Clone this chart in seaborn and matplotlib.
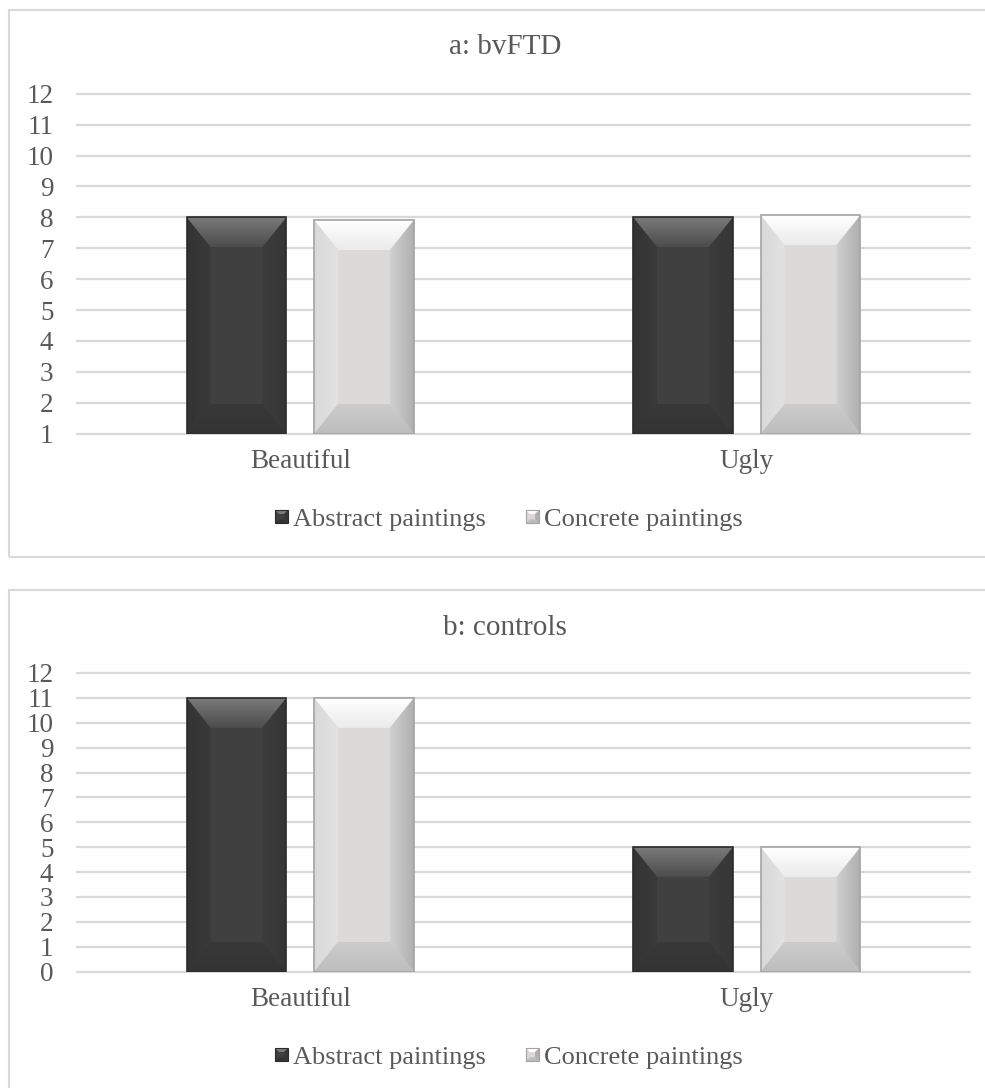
import matplotlib
matplotlib.use("Agg")
import numpy as np
import pandas as pd
import matplotlib.pyplot as plt
import seaborn as sns
from matplotlib.patches import Polygon, Rectangle, Patch
from matplotlib.legend_handler import HandlerBase
from matplotlib.colors import LinearSegmentedColormap

# ---------------- data ----------------
categories = ["Beautiful", "Ugly"]
series = ["Abstract paintings", "Concrete paintings"]
bvftd_abstract = [8.0, 8.0]
bvftd_concrete = [7.91, 8.07]
controls_abstract = [11.0, 5.0]
controls_concrete = [11.0, 5.0]
yticks_a = list(range(1, 13))
yticks_b = list(range(0, 13))
titles = ["a: bvFTD", "b: controls"]

# ---------------- style ----------------
sns.set_theme(style="white")
plt.rcParams['font.family'] = ['Liberation Serif', 'DejaVu Serif']
TEXT = "#595959"
GRID = "#d9d9d9"
W, H = 985, 1088

STYLES = {
    "Abstract paintings": dict(body="#404040", edge="#2a2a2a",
                               top=("#7a7a7a", "#4c4c4c"), bottom=("#333333", "#383838"),
                               left=("#333333", "#3a3a3a"), right=("#363636", "#3c3c3c")),
    "Concrete paintings": dict(body="#dcd8d8", edge="#a3a3a3",
                               top=("#ffffff", "#ebebeb"), bottom=("#bdbdbd", "#cccccc"),
                               left=("#d9d9d9", "#e2e2e2"), right=("#b0b0b0", "#d0d0d0")),
}

fig = plt.figure(figsize=(W / 100, H / 100), dpi=100)
fig.patch.set_facecolor("white")


def px_rect(l, t, r, b):
    return [l / W, 1 - b / H, (r - l) / W, (b - t) / H]


def grad_face(ax, verts, c_out, c_in, direction, z):
    poly = Polygon(verts, closed=True, fc="none", ec="none", transform=ax.transData)
    ax.add_patch(poly)
    xs = [v[0] for v in verts]
    ys = [v[1] for v in verts]
    ext = [min(xs), max(xs), min(ys), max(ys)]
    cmap = LinearSegmentedColormap.from_list("g", [c_out, c_in])
    ramp = np.linspace(0, 1, 64)
    if direction == "top":
        arr = ramp.reshape(-1, 1)
    elif direction == "bottom":
        arr = ramp[::-1].reshape(-1, 1)
    elif direction == "left":
        arr = ramp.reshape(1, -1)
    else:
        arr = ramp[::-1].reshape(1, -1)
    im = ax.imshow(arr, extent=ext, origin="upper", aspect="auto", cmap=cmap,
                   vmin=0, vmax=1, interpolation="bilinear", zorder=z)
    im.set_clip_path(poly)


def bevel(ax, patch, st):
    bb = patch.get_bbox()
    ylo = ax.get_ylim()[0]
    x0, x1 = bb.x0, bb.x1
    y0, y1 = max(bb.y0, ylo), bb.y1
    T = ax.transData
    (X0, Y0), (X1, Y1) = T.transform([(x0, y0), (x1, y1)])
    ix = min(24, (X1 - X0) / 2)
    iy = min(30, (Y1 - Y0) / 2)
    inv = T.inverted()
    faces = {
        "top": [(X0, Y1), (X1, Y1), (X1 - ix, Y1 - iy), (X0 + ix, Y1 - iy)],
        "bottom": [(X0, Y0), (X1, Y0), (X1 - ix, Y0 + iy), (X0 + ix, Y0 + iy)],
        "left": [(X0, Y0), (X0 + ix, Y0 + iy), (X0 + ix, Y1 - iy), (X0, Y1)],
        "right": [(X1, Y0), (X1 - ix, Y0 + iy), (X1 - ix, Y1 - iy), (X1, Y1)],
    }
    for name, v in faces.items():
        vd = inv.transform(v)
        grad_face(ax, [tuple(p) for p in vd], st[name][0], st[name][1], name, 3)
    ax.add_patch(Rectangle((x0, y0), x1 - x0, y1 - y0, fill=False,
                           ec=st["edge"], lw=1.2, zorder=4))


class BevelHandler(HandlerBase):
    def __init__(self, st):
        super().__init__()
        self.st = st

    def create_artists(self, legend, orig_handle, xdescent, ydescent, width, height, fontsize, trans):
        s = min(width, height)
        x0 = -xdescent + (width - s) / 2
        y0 = -ydescent + (height - s) / 2
        x1, y1 = x0 + s, y0 + s
        d = s * 0.3
        st = self.st
        arts = [Rectangle((x0, y0), s, s, fc=st["body"], ec="none", transform=trans)]
        arts.append(Polygon([(x0, y1), (x1, y1), (x1 - d, y1 - d), (x0 + d, y1 - d)],
                            fc=st["top"][0], ec="none", transform=trans))
        arts.append(Polygon([(x0, y0), (x1, y0), (x1 - d, y0 + d), (x0 + d, y0 + d)],
                            fc=st["bottom"][0], ec="none", transform=trans))
        arts.append(Polygon([(x1, y0), (x1 - d, y0 + d), (x1 - d, y1 - d), (x1, y1)],
                            fc=st["right"][0], ec="none", transform=trans))
        arts.append(Rectangle((x0, y0), s, s, fill=False, ec=st["edge"], lw=0.8, transform=trans))
        return arts


panels = [
    dict(abstract=bvftd_abstract, concrete=bvftd_concrete, yticks=yticks_a,
         frame=(9, 10, 1005, 557), axes=(77, 93.7, 970, 433.7), title_y=47, legend_y=520),
    dict(abstract=controls_abstract, concrete=controls_concrete, yticks=yticks_b,
         frame=(9, 590, 1005, 1110), axes=(77, 673, 970, 971.5), title_y=628, legend_y=1058),
]

for i, p in enumerate(panels):
    l, t, r, b = p["frame"]
    fig.add_artist(Rectangle((l / W, 1 - b / H), (r - l) / W, (b - t) / H,
                             transform=fig.transFigure, fill=False, ec=GRID, lw=1.5, zorder=0))
    ax = fig.add_axes(px_rect(*p["axes"]))
    df = pd.DataFrame({
        "category": categories * 2,
        "series": [s for s in series for _ in categories],
        "value": list(p["abstract"]) + list(p["concrete"]),
    })
    sns.barplot(data=df, x="category", y="value", hue="series", hue_order=series,
                order=categories, palette=[STYLES[s]["body"] for s in series],
                width=0.571, gap=0.216, ax=ax, legend=False, errorbar=None,
                linewidth=0, zorder=2)
    ax.set_xlim(-0.5, 1.5)
    ax.set_ylim(p["yticks"][0], p["yticks"][-1])
    ax.set_yticks(p["yticks"])
    ax.set_yticklabels([str(v) for v in p["yticks"]])
    ax.set_xlabel("")
    ax.set_ylabel("")
    for sp in ax.spines.values():
        sp.set_visible(False)
    ax.set_facecolor("white")
    ax.set_axisbelow(True)
    ax.yaxis.grid(True, color=GRID, lw=1.6)
    ax.xaxis.grid(False)
    for gl in ax.get_ygridlines():
        gl.set_clip_on(False)
    ax.tick_params(axis="y", length=0, pad=17, labelsize=19.5, labelcolor=TEXT)
    ax.tick_params(axis="x", length=0, pad=11, labelsize=19.5, labelcolor=TEXT)

    bars = list(ax.patches)
    for k, patch in enumerate(bars):
        name = series[k // len(categories)]
        bevel(ax, patch, STYLES[name])
    ax.set_xlim(-0.5, 1.5)
    ax.set_ylim(p["yticks"][0], p["yticks"][-1])

    fig.text(505 / W, 1 - p["title_y"] / H, titles[i], ha="center", va="center",
             fontsize=21, color=TEXT)

    handles = [Patch(label=s) for s in series]
    hmap = {h: BevelHandler(STYLES[s]) for h, s in zip(handles, series)}
    fig.legend(handles=handles, labels=series, handler_map=hmap, loc="center",
               bbox_to_anchor=(509 / W, 1 - p["legend_y"] / H), ncol=2, frameon=False,
               fontsize=19, handlelength=0.5, handleheight=0.5, handletextpad=0.2,
               columnspacing=1.5, labelcolor=TEXT, borderpad=0, borderaxespad=0)

fig.savefig("out.png", dpi=100, facecolor="white")
